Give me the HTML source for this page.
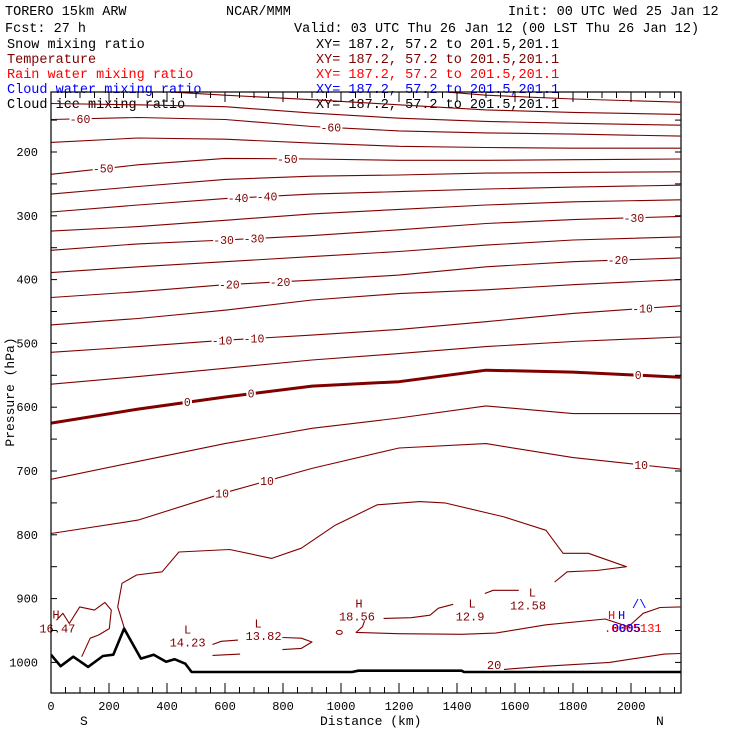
<!DOCTYPE html>
<html><head><meta charset="utf-8"><style>
html,body{margin:0;padding:0;background:#fff;}
svg{display:block;font-family:"Liberation Mono",monospace;}
.t{font-size:13.5px;}
.lbl{font-size:11.5px;fill:#800000;paint-order:stroke;stroke:#fff;stroke-width:4px;}
</style></head><body>
<svg id="chart" width="740" height="740" viewBox="0 0 740 740" xmlns="http://www.w3.org/2000/svg">
<g class="t">
<text x="5" y="15">TORERO  15km ARW</text>
<text x="226" y="15">NCAR/MMM</text>
<text x="508" y="15">Init: 00 UTC Wed 25 Jan 12</text>
<text x="5" y="32">Fcst:   27 h</text>
<text x="294" y="32">Valid: 03 UTC Thu 26 Jan 12 (00 LST Thu 26 Jan 12)</text>
<text x="7" y="48">Snow mixing ratio</text>
<text x="316" y="48">XY= 187.2, 57.2 to 201.5,201.1</text>
<text x="7" y="63" fill="#800000">Temperature</text>
<text x="316" y="63" fill="#800000">XY= 187.2, 57.2 to 201.5,201.1</text>
<text x="7" y="78" fill="#ff0000">Rain water mixing ratio</text>
<text x="316" y="78" fill="#ff0000">XY= 187.2, 57.2 to 201.5,201.1</text>
<text x="7" y="93" fill="#0000ff">Cloud water mixing ratio</text>
<text x="316" y="93" fill="#0000ff">XY= 187.2, 57.2 to 201.5,201.1</text>
<text x="7" y="108">Cloud ice mixing ratio</text>
<text x="316" y="108">XY= 187.2, 57.2 to 201.5,201.1</text>
</g>
<defs><clipPath id="pc"><rect x="51" y="92" width="630" height="601"/></clipPath></defs>
<g id="plot" clip-path="url(#pc)"></g>
<g id="labels"></g>
<rect x="51" y="92" width="630" height="601" fill="none" stroke="#000" stroke-width="1.2"/>
<g id="axes" font-size="12"></g>
<text x="320" y="725" font-size="13">Distance (km)</text>
<text x="80" y="725" font-size="13">S</text>
<text x="656" y="725" font-size="13">N</text>
<text transform="translate(14,392) rotate(-90)" text-anchor="middle" font-size="13">Pressure (hPa)</text>
<g font-size="12">
<text x="608" y="619" fill="#ff0000">H</text>
<text x="618" y="619" fill="#0000ff">H</text>
<text x="604" y="632" fill="#ff0000">.0005131</text>
<text x="612" y="632" fill="#0000ff">0005</text>
<text x="632" y="608" fill="#0000ff">/\</text>
</g>
</svg>
<script>
// distance columns (km) for isotherm pressure arrays
const columns = [0, 300, 600, 900, 1200, 1500, 1800, 2170];
const levels = [-75,-70,-65,-60,-55,-50,-45,-40,-35,-30,-25,-20,-15,-10,-5,0];
const pressures = [
 [71,77,82,92,100,111,117,122],
 [92,103,111,118,126,134,138,141],
 [124,126,129,139,147,152,155,158],
 [149,146,149,160,167,170,172,175],
 [185,178,180,186,191,193,194,194],
 [235,220,210,211,213,213,212,211],
 [266,254,243,238,236,233,232,231],
 [294,283,273,266,262,258,255,252],
 [324,317,307,297,290,283,278,275],
 [354,344,338,331,322,312,306,301],
 [389,380,372,364,356,346,338,333],
 [428,419,408,401,393,380,372,366],
 [471,461,448,432,422,416,408,400],
 [514,505,495,487,478,466,453,441],
 [564,552,539,526,516,505,497,490],
 [625,603,584,567,560,542,545,553]
];
const iso5 = [713,685,657,633,617,598,610,610];
const iso10 = [798,777,734,696,664,657,679,697];
// irregular contours: [km, hPa]
const iso15 = [[259,955],[230,913],[245,876],[295,863],[383,858],[441,827],[616,823],[761,837],[863,821],[980,785],[1125,753],[1271,748],[1358,750],[1562,772],[1707,793],[1766,829],[1853,829],[1984,850],[1882,856],[1780,858],[1737,874]];
const iso16Left = [[19,934],[41,923],[63,939],[99,913],[150,918],[186,906],[208,918],[201,947],[164,957],[135,962],[106,991]];
const iso1423a = [[557,972],[587,967],[645,965]];
const iso1423b = [[557,989],[652,987]];
const iso1382 = [[798,961],[863,962],[900,968],[863,978],[798,980]];
const isoLong = [[1081,935],[1074,944],[1052,953],[1198,955],[1416,956],[1533,954],[1707,941],[1911,932],[1991,944],[2042,923],[2100,914],[2170,913]];
const iso1856 = [[1147,931],[1242,930],[1307,926],[1336,915],[1387,909]];
const iso1258 = [[1496,892],[1525,887],[1613,887]];
const iso20 = [[1562,1011],[1707,1006],[1926,1000],[1998,995],[2115,987],[2170,986]];
const terrainKm = [0,33,77,128,179,215,252,310,354,397,426,463,485,1038,1060,1416,1424,2172];
const terrainP = [988,1006,991,1007,990,988,947,994,988,999,995,1002,1015,1015,1013,1013,1015,1015];
const xTicks = [0,200,400,600,800,1000,1200,1400,1600,1800,2000];
const yTicks = [200,300,400,500,600,700,800,900,1000];
const lineLabels = [
 ["-60",-60,100],["-60",-60,965],["-50",-50,180],["-50",-50,815],["-40",-40,645],["-40",-40,745],
 ["-30",-30,595],["-30",-30,700],["-30",-30,2010],["-20",-20,615],["-20",-20,790],["-20",-20,1955],
 ["-10",-10,590],["-10",-10,700],["-10",-10,2040],["0",0,470],["0",0,690],["0",0,2025]
];
const extremaLabels = [["H",17,931],["16.47",22,953],["L",471,955],["14.23",471,975],["L",714,945],["13.82",733,965],
 ["H",1062,914],["18.56",1055,934],["L",1452,914],["12.9",1445,934],["L",1660,897],["12.58",1645,917],["20",1528,1010]];

const NS='http://www.w3.org/2000/svg';
const xs = km => 51 + km*0.29;
const ys = p => 152 + (p-200)*0.638;
const plot = document.getElementById('plot');
const lab = document.getElementById('labels');
const axes = document.getElementById('axes');
function mk(tag, parent){const e=document.createElementNS(NS,tag);parent.appendChild(e);return e;}
function poly(pts, color, w, name){
  const e=mk('polyline',plot);
  
  
  e.setAttribute('points', pts.map(q=>xs(q[0]).toFixed(1)+','+ys(q[1]).toFixed(1)).join(' '));
  e.setAttribute('fill','none');e.setAttribute('stroke',color);e.setAttribute('stroke-width',w);
  e.setAttribute('stroke-linejoin','round');
}
function colPts(arr){return columns.map((c,i)=>[c,arr[i]]);}
function interp(arr, km){for(let i=0;i<columns.length-1;i++){if(km<=columns[i+1]){const t=(km-columns[i])/(columns[i+1]-columns[i]);return arr[i]+t*(arr[i+1]-arr[i]);}}return arr[arr.length-1];}
levels.forEach((lv,i)=>poly(colPts(pressures[i]),'#800000', lv===0?3:1.1, 'isotherm-'+lv));
poly(colPts(iso5),'#800000',1.1,'isotherm-5');
poly(colPts(iso10),'#800000',1.1,'isotherm-10');
poly(iso15,'#800000',1.1,'isotherm-15');
poly(iso16Left,'#800000',1.1,'isotherm-16-left');
poly(iso1423a,'#800000',1.1,'contour-14-a');
poly(iso1423b,'#800000',1.1,'contour-14-b');
poly(iso1382,'#800000',1.1,'contour-13');
poly(isoLong,'#800000',1.1,'contour-lower-long');
poly(iso1856,'#800000',1.1,'contour-18');
poly(iso1258,'#800000',1.1,'contour-12');
poly(iso20,'#800000',1.1,'isotherm-20');
const circ=mk('ellipse',plot);


circ.setAttribute('cx',xs(994));circ.setAttribute('cy',ys(953));circ.setAttribute('rx',3);circ.setAttribute('ry',2);
circ.setAttribute('fill','none');circ.setAttribute('stroke','#800000');
poly(terrainKm.map((k,i)=>[k,terrainP[i]]),'#000',2.6,'terrain-surface');
const labelLevels=levels.concat([5,10]);
const labelArrs=pressures.concat([iso5,iso10]);
lineLabels.concat([["10",10,590],["10",10,745],["10",10,2035]]).forEach(l=>{
  const arr=labelArrs[labelLevels.indexOf(l[1])];
  const t=mk('text',lab);
  
  
  t.setAttribute('class','lbl');t.setAttribute('text-anchor','middle');
  t.setAttribute('x',xs(l[2]));t.setAttribute('y',ys(interp(arr,l[2]))+4);t.textContent=l[0];
});
extremaLabels.forEach(l=>{
  const t=mk('text',lab);
  
  
  t.setAttribute('font-size','12');t.setAttribute('fill','#800000');t.setAttribute('text-anchor','middle');
  t.setAttribute('x',xs(l[1]));t.setAttribute('y',ys(l[2]));t.textContent=l[0];
});
// ticks
for(let k=0;k<=2150;k+=50){
  const len = (k%200===0)?10:6;
  [[693,693-len],[92,92+len]].forEach(a=>{
    const l=mk('line',axes);
    
    
    l.setAttribute('x1',xs(k));l.setAttribute('x2',xs(k));l.setAttribute('y1',a[0]);l.setAttribute('y2',a[1]);l.setAttribute('stroke','#000');
  });
}
for(let p=150;p<=1040;p+=50){
  [[51,57],[681,675]].forEach(a=>{
    const l=mk('line',axes);
    
    
    l.setAttribute('x1',a[0]);l.setAttribute('x2',a[1]);l.setAttribute('y1',ys(p));l.setAttribute('y2',ys(p));l.setAttribute('stroke','#000');
  });
}
xTicks.forEach(k=>{
  const t=mk('text',axes);
  
  
  t.setAttribute('x',xs(k));t.setAttribute('y',710);t.setAttribute('text-anchor','middle');t.textContent=k;
});
yTicks.forEach(p=>{
  const t=mk('text',axes);
  
  
  t.setAttribute('x',38);t.setAttribute('y',ys(p)+4);t.setAttribute('text-anchor','end');t.textContent=p;
});
</script>
</body></html>
